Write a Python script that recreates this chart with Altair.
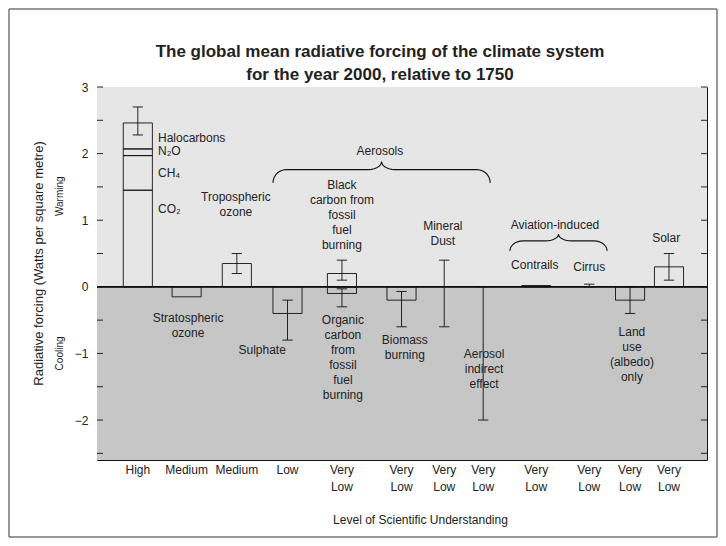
import altair as alt
import pandas as pd
import numpy as np

# ---------------- data ----------------
# column positions (slot units along the x axis) and level of scientific understanding
col_pos = [0.87, 1.91, 2.98, 4.06, 5.22, 6.49, 7.40, 8.23, 9.36, 10.49, 11.36, 12.19]
understanding = ["High", "Medium", "Medium", "Low", "Very\nLow", "Very\nLow", "Very\nLow",
                 "Very\nLow", "Very\nLow", "Very\nLow", "Very\nLow", "Very\nLow"]

# bars (forcing components): column index, lower and upper value (W/m2)
bar_names = ["CO2", "CH4", "N2O", "Halocarbons", "Stratospheric ozone", "Tropospheric ozone",
             "Sulphate", "Black carbon", "Organic carbon", "Biomass burning", "Contrails",
             "Land use", "Solar"]
bar_col = [0, 0, 0, 0, 1, 2, 3, 4, 4, 5, 8, 10, 11]
bar_low = [0.0, 1.45, 1.97, 2.07, -0.15, 0.0, -0.40, 0.0, -0.10, -0.20, 0.0, -0.20, 0.0]
bar_high = [1.45, 1.97, 2.07, 2.46, 0.0, 0.35, 0.0, 0.20, 0.0, 0.0, 0.02, 0.0, 0.30]

# uncertainty ranges
err_col = [0, 2, 3, 4, 4, 5, 6, 7, 9, 10, 11]
err_low = [2.28, 0.20, -0.80, 0.10, -0.30, -0.60, -0.60, -2.00, 0.00, -0.40, 0.10]
err_high = [2.70, 0.50, -0.20, 0.40, -0.03, -0.07, 0.40, 0.00, 0.04, 0.00, 0.50]

# in-plot labels: text, x (slot units), top of first line (W/m2), alignment
ann_text = ["Halocarbons", "N₂O", "CH₄", "CO₂", "Tropospheric\nozone", "Aerosols",
            "Black\ncarbon from\nfossil\nfuel\nburning", "Mineral\nDust", "Aviation-induced",
            "Contrails", "Cirrus", "Solar", "Stratospheric\nozone", "Sulphate",
            "Organic\ncarbon\nfrom\nfossil\nfuel\nburning", "Biomass\nburning",
            "Aerosol\nindirect\neffect", "Land\nuse\n(albedo)\nonly"]
ann_x = [1.30, 1.30, 1.30, 1.30, 2.96, 6.03, 5.22, 7.37, 9.76, 9.33, 10.49, 12.13,
         1.94, 3.52, 5.24, 6.56, 8.25, 11.40]
ann_y = [2.31, 2.12, 1.78, 1.24, 1.43, 2.12, 1.60, 0.99, 1.00, 0.40, 0.37, 0.81,
         -0.39, -0.87, -0.42, -0.72, -0.94, -0.61]
ann_align = ["left", "left", "left", "left"] + ["center"] * 14

# braces grouping aerosols and aviation-induced effects: start, end (slot units), level (W/m2)
brace_names = ["Aerosols", "Aviation-induced"]
brace_x0 = [3.75, 8.80]
brace_x1 = [8.38, 10.87]
brace_y = [1.76, 0.69]

title_lines = ["The global mean radiative forcing of the climate system",
               "for the year 2000, relative to 1750"]

Y_MIN, Y_MAX = -2.6, 3.0
X_MIN, X_MAX = 0, 13
W, H = 610, 373
BAR_HALF = 0.31
FONT = "Liberation Sans"
TXT = "#222222"

# ---------------- tables ----------------
bars = pd.DataFrame({
    "component": bar_names,
    "x": [col_pos[c] for c in bar_col],
    "low": bar_low,
    "high": bar_high,
})
bars["x0"] = bars["x"] - BAR_HALF
bars["x1"] = bars["x"] + BAR_HALF

errs = pd.DataFrame({
    "x": [col_pos[c] for c in err_col],
    "low": err_low,
    "high": err_high,
})
caps = pd.concat([
    pd.DataFrame({"x": errs["x"], "y": errs["low"]}),
    pd.DataFrame({"x": errs["x"], "y": errs["high"]}),
])
caps["x0"] = caps["x"] - 0.11
caps["x1"] = caps["x"] + 0.11

ann = pd.DataFrame({"text": ann_text, "x": ann_x, "y": ann_y, "align": ann_align})
levels = pd.DataFrame({"x": col_pos, "text": understanding})

# brace outlines built from the spans
rows = []
for name, x0, x1, y in zip(brace_names, brace_x0, brace_x1, brace_y):
    d = 0.2 if name == "Aerosols" else 0.15   # end drop
    t = 0.12 if name == "Aerosols" else 0.1   # tip rise
    r = 0.28
    xm = (x0 + x1) / 2
    th = np.linspace(0, np.pi / 2, 8)
    pts = []
    pts += list(zip(x0 + r * (1 - np.cos(th)), y - d + d * np.sin(th)))
    pts += list(zip(xm - r + r * np.sin(th), y + t * (1 - np.cos(th))))
    pts += list(zip(xm + r - r * np.sin(th[::-1]), y + t * (1 - np.cos(th[::-1]))))
    pts += list(zip(x1 - r * (1 - np.cos(th[::-1])), y - d + d * np.sin(th[::-1])))
    for i, (px, py) in enumerate(pts):
        rows.append({"brace": name, "i": i, "x": px, "y": py})
braces = pd.DataFrame(rows)

regions = pd.DataFrame({"lo": [0.0, Y_MIN], "hi": [Y_MAX, 0.0], "zone": ["Warming", "Cooling"]})
ticks = pd.DataFrame({"y": np.arange(-2.5, 3.01, 0.5)})
side = pd.DataFrame({"text": ["Warming", "Cooling"], "y": [1.36, -1.0]})
title1 = pd.DataFrame({"text": [title_lines[0]]})
title2 = pd.DataFrame({"text": [title_lines[1]]})

xs = alt.Scale(domain=[X_MIN, X_MAX], nice=False, zero=False)
ys = alt.Scale(domain=[Y_MIN, Y_MAX], nice=False, zero=False)

# ---------------- layers ----------------
bg = alt.Chart(regions).mark_rect().encode(
    x=alt.value(0), x2=alt.value(W),
    y=alt.Y("lo:Q", scale=ys, axis=alt.Axis(
        values=[-2, -1, 0, 1, 2, 3], format="d", ticks=False, domain=False, grid=False,
        labelFont=FONT, labelFontSize=12, labelColor=TXT, labelPadding=9,
        title="Radiative forcing  (Watts per square metre)",
        titleFont=FONT, titleFontSize=13, titleFontWeight="normal", titleColor=TXT,
        titleX=-59, titleY=176, titleBaseline="middle", titleAngle=270)),
    y2="hi:Q",
    color=alt.Color("zone:N", scale=alt.Scale(domain=["Warming", "Cooling"],
                                               range=["#e6e6e6", "#c6c6c6"]), legend=None),
)

xaxis_holder = alt.Chart(regions).mark_point(opacity=0).encode(
    x=alt.X("lo:Q", scale=xs, axis=alt.Axis(
        labels=False, ticks=False, domain=False, grid=False,
        title="Level  of Scientific Understanding", titleFont=FONT, titleFontSize=12,
        titleFontWeight="normal", titleColor=TXT, titleX=323, titlePadding=54)),
    y=alt.Y("lo:Q", scale=ys),
)

zero = alt.Chart(regions).mark_rule(color="black", strokeWidth=1.2).encode(
    x=alt.value(0), x2=alt.value(W), y=alt.datum(0))

bar_layer = alt.Chart(bars).mark_rect(fillOpacity=0, stroke="#111", strokeWidth=0.9).encode(
    x=alt.X("x0:Q", scale=xs), x2="x1:Q",
    y=alt.Y("low:Q", scale=ys), y2="high:Q",
    tooltip=["component", "low", "high"],
)

err_layer = alt.Chart(errs).mark_rule(color="#111", strokeWidth=0.9).encode(
    x=alt.X("x:Q", scale=xs), y=alt.Y("low:Q", scale=ys), y2="high:Q")

cap_layer = alt.Chart(caps).mark_rule(color="#111", strokeWidth=0.9).encode(
    x=alt.X("x0:Q", scale=xs), x2="x1:Q", y=alt.Y("y:Q", scale=ys))

brace_layer = alt.Chart(braces).mark_line(color="#111", strokeWidth=1.1).encode(
    x=alt.X("x:Q", scale=xs), y=alt.Y("y:Q", scale=ys),
    detail="brace:N", order="i:Q")

ann_left = alt.Chart(ann[ann["align"] == "left"]).mark_text(
    align="left", baseline="top", font=FONT, fontSize=12, color=TXT, lineBreak="\n",
    lineHeight=15).encode(x=alt.X("x:Q", scale=xs), y=alt.Y("y:Q", scale=ys), text="text:N")

ann_center = alt.Chart(ann[ann["align"] == "center"]).mark_text(
    align="center", baseline="top", font=FONT, fontSize=12, color=TXT, lineBreak="\n",
    lineHeight=15).encode(x=alt.X("x:Q", scale=xs), y=alt.Y("y:Q", scale=ys), text="text:N")

level_layer = alt.Chart(levels).mark_text(
    align="center", baseline="top", font=FONT, fontSize=12, color=TXT, lineBreak="\n",
    lineHeight=17).encode(x=alt.X("x:Q", scale=xs), y=alt.value(H + 5), text="text:N")

side_layer = alt.Chart(side).mark_text(
    angle=270, align="center", baseline="middle", font=FONT, fontSize=10, color=TXT).encode(
    x=alt.value(-37), y=alt.Y("y:Q", scale=ys), text="text:N")

title_style = dict(align="center", baseline="middle", font=FONT, fontSize=17,
                   fontWeight="bold", color=TXT)
title_a = alt.Chart(title1).mark_text(**title_style).encode(
    x=alt.value(283), y=alt.value(-35), text="text:N")
title_b = alt.Chart(title2).mark_text(**title_style).encode(
    x=alt.value(283), y=alt.value(-12), text="text:N")

tick_left = alt.Chart(ticks).mark_rule(color="#111", strokeWidth=0.9).encode(
    x=alt.value(0), x2=alt.value(6), y=alt.Y("y:Q", scale=ys))
tick_right = alt.Chart(ticks).mark_rule(color="#111", strokeWidth=0.9).encode(
    x=alt.value(W - 6), x2=alt.value(W), y=alt.Y("y:Q", scale=ys))

frame = alt.Chart(regions).mark_rect(fillOpacity=0, stroke="#777", strokeWidth=1).encode(
    x=alt.value(-88), x2=alt.value(W + 10), y=alt.value(-78), y2=alt.value(H + 77))

chart = alt.layer(
    bg, xaxis_holder, zero, bar_layer, err_layer, cap_layer, brace_layer,
    ann_left, ann_center, level_layer, side_layer, title_a, title_b,
    tick_left, tick_right, frame,
).properties(
    width=W, height=H,
    autosize=alt.AutoSizeParams(type="none"),
    padding={"left": 89, "top": 79, "right": 11, "bottom": 78},
).configure_view(stroke="#111", strokeWidth=1)

chart.save("out.html", embed_options={"renderer": "svg", "actions": False})
